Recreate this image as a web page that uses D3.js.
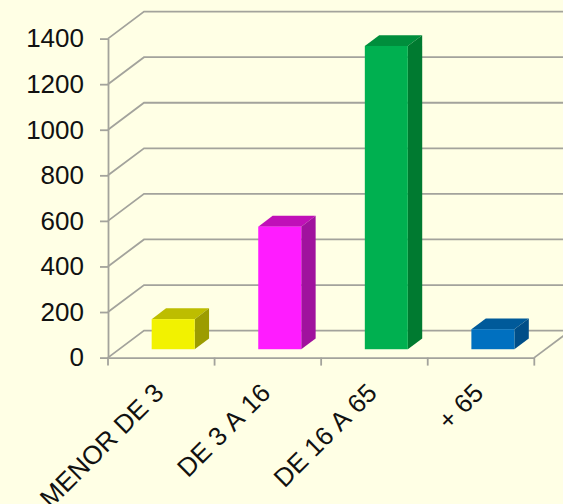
<!DOCTYPE html>
<html>
<head>
<meta charset="utf-8">
<script src="https://cdn.jsdelivr.net/npm/d3@7"></script>
<style>
    html, body { margin: 0; padding: 0; background: #ffffe5; overflow: hidden; }
    svg { display: block; }
    text { font-family: "Liberation Sans", Arial, sans-serif; fill: #111; font-kerning: none; }
</style>
</head>
<body>
<script>
const categories = ['MENOR DE 3', 'DE 3 A 16', 'DE 16 A 65', '+ 65'];
const values = [132, 538, 1331, 88];
const yTicks = [0, 200, 400, 600, 800, 1000, 1200, 1400];
const frontColors = ['#f2f200', '#ff1cff', '#00b050', '#0070c0'];
const topColors = ['#bdbd00', '#c010b8', '#008e3c', '#005a9a'];
const sideColors = ['#9c9c00', '#a0129e', '#007a30', '#004e88'];

const width = 563;
const height = 504;
const marginLeft = 108;
const axisRight = 534.3;
const axisBottom = 357.6;
const axisTop = 38.6;
const grey = '#a3a39c';

// fake 3d: the back wall is shifted by this much from the axis plane
const wallDx = 36;
const wallDy = -27;
// where the bars sit in the depth of the floor, and how deep they are
const barOffset = 0.33;
const barDepth = 0.4;

const svg = d3.select('body').append('svg').attr('width', width).attr('height', height);

const x = d3.scaleBand().domain(categories).range([marginLeft, axisRight]).paddingInner(0).paddingOuter(0);
const y = d3.scaleLinear().domain([0, 1400]).range([axisBottom, axisTop]);
const barWidth = 43;

// walls
const wall = svg.append('g').attr('fill', 'none').attr('stroke', grey).attr('stroke-width', 1.8);

wall.selectAll('.grid')
    .data(yTicks)
    .enter().append('polyline')
    .attr('class', 'grid')
    .attr('points', d => [
        [marginLeft, y(d)],
        [marginLeft + wallDx, y(d) + wallDy],
        [width + 5, y(d) + wallDy]
    ].join(' '));

wall.append('line')
    .attr('x1', axisRight).attr('y1', axisBottom)
    .attr('x2', axisRight + wallDx).attr('y2', axisBottom + wallDy);

// bars
const bars = svg.selectAll('.bar')
    .data(categories)
    .enter().append('g')
    .attr('class', 'bar');

function barBox(d, i) {
    const left = x(d) + x.bandwidth() / 2 + wallDx * barOffset - barWidth / 2;
    const bottom = y(0) + wallDy * 0.31;
    const top = bottom - (y(0) - y(values[i]));
    return { left, right: left + barWidth, top, bottom, dx: wallDx * barDepth, dy: wallDy * barDepth };
}

bars.append('polygon')
    .attr('fill', (d, i) => topColors[i])
    .attr('points', (d, i) => {
        const b = barBox(d, i);
        return [[b.left, b.top], [b.left + b.dx, b.top + b.dy], [b.right + b.dx, b.top + b.dy], [b.right, b.top]].join(' ');
    });

bars.append('polygon')
    .attr('fill', (d, i) => sideColors[i])
    .attr('points', (d, i) => {
        const b = barBox(d, i);
        return [[b.right, b.top], [b.right + b.dx, b.top + b.dy], [b.right + b.dx, b.bottom + b.dy], [b.right, b.bottom]].join(' ');
    });

bars.append('rect')
    .attr('fill', (d, i) => frontColors[i])
    .attr('x', (d, i) => barBox(d, i).left)
    .attr('y', (d, i) => barBox(d, i).top)
    .attr('width', barWidth)
    .attr('height', (d, i) => barBox(d, i).bottom - barBox(d, i).top);

// y axis
svg.append('g')
    .attr('transform', `translate(${marginLeft},0)`)
    .call(d3.axisLeft(y).tickValues(yTicks).tickFormat(d3.format('d')).tickSize(8).tickSizeOuter(0).tickPadding(16))
    .call(g => g.select('.domain').attr('stroke', grey).attr('stroke-width', 1.8))
    .call(g => g.selectAll('.tick line').attr('stroke', grey).attr('stroke-width', 1.8))
    .call(g => g.selectAll('.tick text')
        .attr('font-size', 26)
        .attr('font-family', '"Liberation Sans", Arial, sans-serif')
        .attr('fill', '#111'));

// x axis, ticks sit on the band edges so the labels get their own axis call
const xEdges = categories.map(d => x(d)).concat([axisRight]);

svg.append('g')
    .attr('transform', `translate(0,${axisBottom})`)
    .call(d3.axisBottom(x).tickSize(0).tickPadding(0))
    .call(g => g.select('.domain').attr('stroke', grey).attr('stroke-width', 1.8))
    .call(g => g.selectAll('.tick text')
        .attr('font-size', 26)
        .attr('font-family', '"Liberation Sans", Arial, sans-serif')
        .attr('fill', '#111')
        .attr('text-anchor', 'end')
        .attr('dy', 0)
        .attr('y', 0)
        .attr('transform', 'translate(4,37) rotate(-45)'));

svg.selectAll('.xtick')
    .data(xEdges)
    .enter().append('line')
    .attr('class', 'xtick')
    .attr('x1', d => d).attr('x2', d => d)
    .attr('y1', axisBottom).attr('y2', axisBottom + 8)
    .attr('stroke', grey)
    .attr('stroke-width', 1.8);
</script>
</body>
</html>
